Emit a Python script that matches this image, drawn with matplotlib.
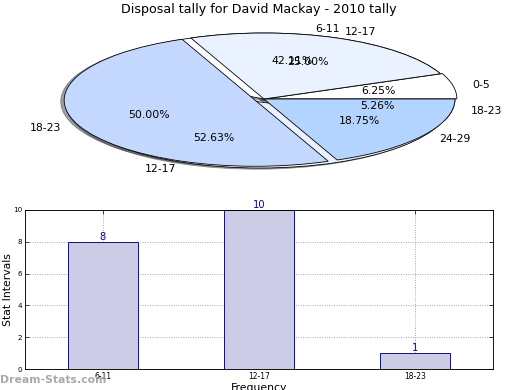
import matplotlib
matplotlib.use("Agg")
import matplotlib.pyplot as plt

# ---- data ----
title = "Disposal tally for David Mackay - 2010 tally"
pie1_labels = ["6-11", "12-17", "18-23"]
pie1_values = [8, 10, 1]
pie2_labels = ["0-5", "12-17", "18-23", "24-29"]
pie2_values = [1, 4, 8, 3]
bar_categories = ["6-11", "12-17", "18-23"]
bar_values = [8, 10, 1]
y_ticks = [0, 2, 4, 6, 8, 10]

pie_colors = ["#FFFFFF", "#EAF1FF", "#C4D8FF", "#B3D4FF"]

fig = plt.figure(figsize=(8, 6), dpi=65)
W, H = 520, 390

# ---- pie axes ----
axp = fig.add_axes([25.25 / W, (H - 181.5) / H, 477.5 / W, 165 / H])
wp = dict(edgecolor="black", linewidth=0.9)
axp.pie(pie1_values, labels=pie1_labels, colors=pie_colors[:3],
        explode=[0, 0.05, 0], autopct="%1.2f%%", shadow=True,
        startangle=0, wedgeprops=wp, textprops=dict(fontsize=12))
axp.pie(pie2_values, labels=pie2_labels, colors=pie_colors,
        explode=[0.01, 0, 0.05, 0], autopct="%1.2f%%", shadow=True,
        startangle=0, wedgeprops=wp, textprops=dict(fontsize=12))
axp.set_aspect("auto")
axp.set_xlim(-1.25, 1.25)
axp.set_ylim(-1.25, 1.25)
axp.axis("off")

fig.text(259 / W, 1 - 10 / H, title, ha="center", va="center", fontsize=14)

# ---- bar axes ----
axb = fig.add_axes([25 / W, (H - 369) / H, 468 / W, 159 / H])
x = list(range(len(bar_categories)))
axb.bar(x, bar_values, width=0.45, color="#CCCCE6", edgecolor="#000080",
        linewidth=1.0, zorder=2)
for xi, v in zip(x, bar_values):
    axb.text(xi, v, str(v), ha="center", va="bottom", color="#000099",
             fontsize=11, zorder=3)
axb.set_xlim(-0.5, len(bar_categories) - 0.5)
axb.set_ylim(0, 10)
axb.set_xticks(x)
axb.set_xticklabels(bar_categories, fontsize=8.5)
axb.set_yticks(y_ticks)
axb.set_yticklabels([str(t) for t in y_ticks], fontsize=8)
axb.tick_params(direction="in", top=True, right=True, length=4, pad=3)
axb.grid(True, linestyle=":", color="#999999", linewidth=1.0, zorder=0)
axb.set_axisbelow(True)
for s in axb.spines.values():
    s.set_color("black")
    s.set_linewidth(1.0)
axb.set_ylabel("Stat Intervals", fontsize=12)
axb.yaxis.set_label_coords(-0.026, 0.5)
axb.set_xlabel("Frequency", fontsize=12)
axb.xaxis.set_label_coords(0.5, -0.085)

fig.text(0, 1 - 380 / H, "Dream-Stats.com", ha="left", va="center",
         fontsize=12, fontweight="bold", color="#A0A0A0", alpha=0.9)

fig.savefig("out.png", dpi=65)
